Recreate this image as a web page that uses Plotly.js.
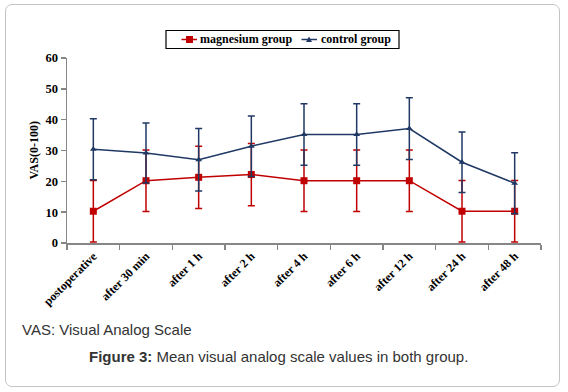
<!DOCTYPE html>
<html>
<head>
<meta charset="utf-8">
<script src="https://cdn.plot.ly/plotly-3.0.1.min.js"></script>
<style>
  html, body { margin: 0; padding: 0; background: #fff; }
  #wrap { position: relative; width: 568px; height: 392px; overflow: hidden; }
  #chart { position: absolute; left: 0; top: 0; width: 568px; height: 392px; }
  #frame { position: absolute; left: 5px; top: 4px; width: 553px; height: 381px;
           border: 1.5px solid #c4c4c4; border-radius: 7px; pointer-events: none; }
</style>
</head>
<body>
<div id="wrap">
  <div id="chart"></div>
  <div id="frame"></div>
</div>
<script>
// ---- data ----
const categories = ["postoperative", "after 30 min", "after 1 h", "after 2 h", "after 4 h",
                    "after 6 h", "after 12 h", "after 24 h", "after 48 h"];
const magnesiumMean = [10.3, 20.2, 21.3, 22.2, 20.2, 20.2, 20.2, 10.3, 10.3];
const magnesiumSD   = [10.0, 10.0, 10.1, 10.1, 10.0, 10.0, 10.0, 10.0, 10.0];
const controlMean   = [30.4, 29.2, 27.0, 31.4, 35.2, 35.2, 37.1, 26.2, 19.4];
const controlSD     = [9.9, 9.7, 10.1, 9.8, 10.0, 10.0, 10.0, 9.8, 9.9];
const yTicks = [0, 10, 20, 30, 40, 50, 60];
const seriesNames = ["magnesium group", "control group"];

const serif = "'Liberation Serif', 'Times New Roman', 'DejaVu Serif', serif";
const sans = "'Liberation Sans', Arial, sans-serif";
const RED = "#C00000";
const BLUE = "#1F3864";

// plot area geometry (pixels) for placing paper-referenced decorations
const M = { l: 67, r: 27, t: 58, b: 149 };
const W = 568, H = 392;
const PW = W - M.l - M.r, PH = H - M.t - M.b;
const px = x => (x - M.l) / PW;
const py = y => (H - M.b - y) / PH;

const traces = [
  {
    type: "scatter", mode: "lines+markers", name: seriesNames[0],
    x: categories, y: magnesiumMean,
    line: { color: RED, width: 1.5 },
    marker: { symbol: "square", size: 7, color: RED },
    error_y: { type: "data", array: magnesiumSD, visible: true, color: RED, thickness: 1.5, width: 3.5 }
  },
  {
    type: "scatter", mode: "lines+markers", name: seriesNames[1],
    x: categories, y: controlMean,
    line: { color: BLUE, width: 1.5 },
    marker: { symbol: "triangle-up", size: 6, color: BLUE },
    error_y: { type: "data", array: controlSD, visible: true, color: BLUE, thickness: 1.5, width: 3.5 }
  }
];

// custom legend box (matches the compact Excel legend)
const legY = 39.5;
const shapes = [
  { type: "rect", xref: "paper", yref: "paper", x0: px(166), x1: px(399), y0: py(30.5), y1: py(48.5),
    line: { color: "#000", width: 1.2 }, fillcolor: "#fff", layer: "above" },
  { type: "line", xref: "paper", yref: "paper", x0: px(181.5), x1: px(197), y0: py(legY), y1: py(legY),
    line: { color: RED, width: 1.5 }, layer: "above" },
  { type: "rect", xref: "paper", yref: "paper", x0: px(186), x1: px(193), y0: py(legY - 3.5), y1: py(legY + 3.5),
    line: { width: 0 }, fillcolor: RED, layer: "above" },
  { type: "line", xref: "paper", yref: "paper", x0: px(301.5), x1: px(317), y0: py(legY), y1: py(legY),
    line: { color: BLUE, width: 1.5 }, layer: "above" },
  { type: "path", xref: "paper", yref: "paper",
    path: "M " + px(306) + "," + py(legY + 2.5) + " L " + px(312) + "," + py(legY + 2.5) +
          " L " + px(309) + "," + py(legY - 3) + " Z",
    line: { width: 0 }, fillcolor: BLUE, layer: "above" }
];

const legendFont = { family: serif, size: 12, color: "#000", weight: "bold" };

const layout = {
  width: W, height: H,
  margin: M,
  paper_bgcolor: "#fff", plot_bgcolor: "#fff",
  showlegend: false,
  xaxis: {
    type: "category", range: [-0.5, 8.5],
    showline: true, linecolor: "#868686", linewidth: 1.5,
    ticks: "outside", tickson: "boundaries", ticklen: 5, tickcolor: "#868686", tickwidth: 1.5,
    tickangle: -45, showgrid: false, zeroline: false,
    tickfont: { family: serif, size: 12, color: "#000", weight: "bold" }
  },
  yaxis: {
    range: [0, 60], tickvals: yTicks, ticktext: yTicks.map(String),
    showline: true, linecolor: "#868686", linewidth: 1.5,
    ticks: "outside", ticklen: 5, tickcolor: "#868686", tickwidth: 1.5,
    showgrid: false, zeroline: false,
    tickfont: { family: serif, size: 12.5, color: "#000", weight: "bold" }
  },
  shapes: shapes,
  annotations: [
    { text: seriesNames[0], xref: "paper", yref: "paper", x: px(198), y: py(legY),
      xanchor: "left", yanchor: "middle", showarrow: false, font: legendFont },
    { text: seriesNames[1], xref: "paper", yref: "paper", x: px(318.5), y: py(legY),
      xanchor: "left", yanchor: "middle", showarrow: false, font: legendFont },
    { text: "VAS(0-100)", xref: "paper", yref: "paper", x: px(33), y: 0.5,
      xanchor: "center", yanchor: "middle", textangle: -90, showarrow: false,
      font: { family: serif, size: 12, color: "#000", weight: "bold" } },
    { text: "VAS: Visual Analog Scale", xref: "paper", yref: "paper",
      x: px(20), y: py(329), xanchor: "left", yanchor: "middle",
      showarrow: false, font: { family: sans, size: 15, color: "#333" } },
    { text: "<b>Figure 3:</b> Mean visual analog scale values in both group.", xref: "paper", yref: "paper",
      x: px(87), y: py(356), xanchor: "left", yanchor: "middle",
      showarrow: false, font: { family: sans, size: 15, color: "#333" } }
  ]
};

Plotly.newPlot("chart", traces, layout, { displayModeBar: false, staticPlot: true });
</script>
</body>
</html>
